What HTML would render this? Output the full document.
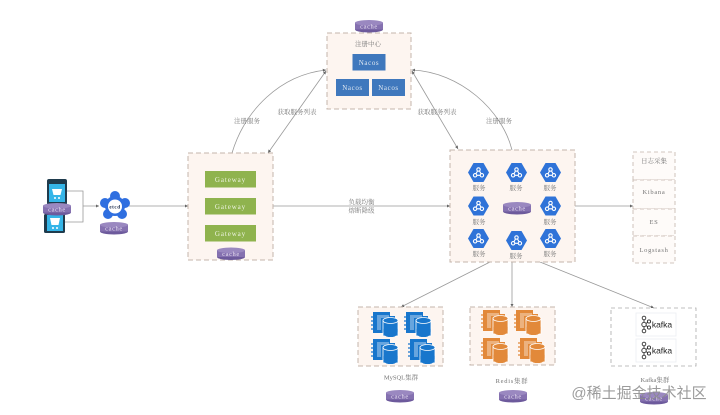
<!DOCTYPE html>
<html><head><meta charset="utf-8"><style>
html,body{margin:0;padding:0;background:#fff;width:720px;height:415px;overflow:hidden}
svg{display:block;filter:blur(.35px)}
text{font-family:"Liberation Serif","Noto Serif CJK SC",serif;font-size:6.5px;fill:#777;text-anchor:middle}
.w{fill:#dfe8f2;letter-spacing:.6px;font-size:7px}.c{fill:#e6def0;font-size:6.5px;letter-spacing:.6px}
.s{letter-spacing:.7px}
.b{fill:#fdf5f0;stroke:#c4b5ab;stroke-width:1;stroke-dasharray:5 3}
.l{fill:none;stroke:#999;stroke-width:.8}
</style></head><body>
<svg width="720" height="415" viewBox="0 0 720 415" xmlns="http://www.w3.org/2000/svg">
<defs>
<marker id="a" markerWidth="5" markerHeight="5" refX="4" refY="2.5" orient="auto-start-reverse"><path d="M0 .5L4 2.5L0 4.5z" fill="#666"/></marker>
<g id="cache"><ellipse cx="14" cy="9.5" rx="14" ry="3" fill="#6d5a9c"/><rect x="0" y="2.5" width="28" height="7" fill="#8571b0"/><ellipse cx="14" cy="2.8" rx="14" ry="2.8" fill="#9a88c0"/><text class="c" x="14" y="8.6">cache</text></g>
<g id="hex"><path d="M-5-9.500H5L10.500 0L5 9.500H-5L-10.500 0z" fill="#2f73d8"/><g fill="none" stroke="#fff" stroke-width="1.1"><circle cx="0" cy="-3" r="1.700"/><circle cx="-3.400" cy="2.800" r="1.700"/><circle cx="3.400" cy="2.800" r="1.700"/><path d="M-1 -1.500L-2.500 1.200M1 -1.500L2.500 1.200M-1.700 2.800H1.700"/></g></g>
<g id="db"><path d="M0 0H17V4H22V21H0z" fill="currentColor"/><path d="M-2 5h4M-2 9h4M-2 13h4M-2 17h4" stroke="currentColor" stroke-width="1.2"/><path d="M4 3H16V6H8V18H4z" fill="#fff" opacity=".35"/><rect x="10" y="8" width="15" height="16" fill="currentColor" stroke="#fff" stroke-width=".8"/><ellipse cx="17.500" cy="8.500" rx="7.500" ry="3" fill="currentColor" stroke="#fff" stroke-width=".8"/><rect x="10.400" y="12" width="14.200" height="13" rx="5" fill="currentColor"/></g>
<g id="kafka"><rect width="40" height="23" fill="#fff" stroke="#eceef2" stroke-width=".8"/><g fill="none" stroke="#333" stroke-width=".9"><circle cx="8" cy="5" r="1.800"/><circle cx="8" cy="11.500" r="2.200"/><circle cx="8" cy="18" r="1.800"/><circle cx="13" cy="8.500" r="1.600"/><circle cx="13" cy="14.500" r="1.600"/><path d="M8 7V9.300M8 13.700V16M10 10.500L11.600 9.300M10 12.500L11.600 13.800"/></g><text x="26" y="14.500" style="font-family:'Liberation Sans',sans-serif;font-size:8.500px;fill:#222">kafka</text></g>
</defs>
<rect width="720" height="415" fill="#fff"/>

<!-- connectors -->
<path class="l" d="M232 153C245 110 280 75 326 70" marker-end="url(#a)"/>
<path class="l" d="M326 71L268 153" marker-start="url(#a)" marker-end="url(#a)"/>
<path class="l" d="M412 71L458 149" marker-start="url(#a)" marker-end="url(#a)"/>
<path class="l" d="M512 150C502 110 460 72 412 70" marker-end="url(#a)"/>
<path class="l" d="M67 191H83V222H65M83 206H99" marker-end="url(#a)"/>
<path class="l" d="M129 206H188" marker-end="url(#a)"/>
<path class="l" d="M273 206H450" marker-end="url(#a)"/>
<path class="l" d="M575 206H633" marker-end="url(#a)"/>
<path class="l" d="M512 262V307" marker-end="url(#a)"/>
<path class="l" d="M490 262L401 307" marker-end="url(#a)"/>
<path class="l" d="M540 262L654 308" marker-end="url(#a)"/>

<!-- registry -->
<rect class="b" x="327" y="33" width="84" height="76"/>
<use href="#cache" x="355" y="20"/>
<text x="368" y="46">注册中心</text>
<rect x="352.500" y="54" width="33" height="16.500" fill="#3f78bd"/><text class="w" x="369" y="65">Nacos</text>
<rect x="336" y="79" width="33" height="17" fill="#3f78bd"/><text class="w" x="352.500" y="90">Nacos</text>
<rect x="372" y="79" width="33" height="17" fill="#3f78bd"/><text class="w" x="388.500" y="90">Nacos</text>

<!-- labels -->
<text x="247" y="123">注册服务</text>
<text x="297" y="114">获取服务列表</text>
<text x="437" y="114">获取服务列表</text>
<text x="499" y="123">注册服务</text>
<text x="361.500" y="204">负载均衡</text>
<text x="361.500" y="212.500">熔断降级</text>

<!-- clients -->
<rect x="47" y="179" width="20" height="26" rx="2" fill="#1f3b4d"/><rect x="49" y="184" width="16" height="18" fill="#35b5e8"/>
<path d="M52 189H62L60.500 195H53.500z" fill="#fff"/><circle cx="55" cy="198" r="1" fill="#fff"/><circle cx="59" cy="198" r="1" fill="#fff"/>
<rect x="44" y="214" width="21" height="19" rx="1.500" fill="#1f3b4d"/><rect x="47" y="215" width="16" height="16" fill="#35b5e8"/>
<path d="M50 218H60L58.500 225H51.500z" fill="#fff"/><circle cx="53" cy="228" r="1" fill="#fff"/><circle cx="57" cy="228" r="1" fill="#fff"/>
<use href="#cache" x="43" y="203"/>
<g fill="#2f6fe0"><circle cx="115" cy="196" r="5"/><circle cx="125" cy="203" r="5"/><circle cx="122" cy="214" r="5"/><circle cx="108" cy="214" r="5"/><circle cx="105" cy="203" r="5"/><circle cx="115" cy="206" r="10"/></g>
<circle cx="115" cy="206.500" r="7" fill="#fff"/><text x="115" y="208.500" style="font-size:5px;font-weight:bold;fill:#124;letter-spacing:.6px">etcd</text>
<use href="#cache" x="100" y="222"/>

<!-- gateway -->
<rect class="b" x="188" y="153" width="85" height="107"/>
<g fill="#8fb34e"><rect x="205" y="171" width="51" height="16.500"/><rect x="205" y="198" width="51" height="16.500"/><rect x="205" y="225" width="51" height="16.500"/></g>
<text class="w" style="fill:#eef4e2;letter-spacing:.9px" x="230.500" y="182">Gateway</text><text class="w" style="fill:#eef4e2;letter-spacing:.9px" x="230.500" y="209">Gateway</text><text class="w" style="fill:#eef4e2;letter-spacing:.9px" x="230.500" y="236">Gateway</text>
<use href="#cache" x="217" y="247.500"/>

<!-- services -->
<rect class="b" x="450" y="150" width="125" height="112"/>
<use href="#hex" x="478.500" y="172.500"/><use href="#hex" x="516.500" y="172.500"/><use href="#hex" x="550.500" y="172.500"/>
<use href="#hex" x="478.500" y="206"/><use href="#hex" x="550.500" y="206"/>
<use href="#hex" x="478.500" y="238.500"/><use href="#hex" x="516.500" y="240.500"/><use href="#hex" x="550.500" y="238.500"/>
<text x="479" y="190">服务</text><text x="516" y="190">服务</text><text x="550" y="190">服务</text>
<text x="479" y="224">服务</text><text x="550" y="224">服务</text>
<text x="479" y="256">服务</text><text x="516" y="258">服务</text><text x="550" y="256">服务</text>
<use href="#cache" x="503" y="202"/>

<!-- logs -->
<g fill="#fefbf9" stroke="#c4b5ab" stroke-width=".8" stroke-dasharray="4 3">
<rect x="633" y="152" width="42" height="28"/><rect x="633" y="180" width="42" height="29"/><rect x="633" y="209" width="42" height="27"/><rect x="633" y="236" width="42" height="27"/></g>
<text x="654" y="163">日志采集</text><text class="s" x="654" y="194">Kibana</text><text class="s" x="654" y="224">ES</text><text class="s" x="654" y="252">Logstash</text>

<!-- mysql -->
<rect class="b" x="358" y="307" width="85" height="59"/>
<g style="color:#1876cc"><use href="#db" x="373" y="312"/><use href="#db" x="406" y="312"/><use href="#db" x="373" y="339"/><use href="#db" x="410" y="339"/></g>
<text x="401" y="379.500">MySQL集群</text>
<use href="#cache" x="386" y="390"/>

<!-- redis -->
<rect class="b" x="470" y="307" width="85" height="58"/>
<g style="color:#e2893a"><use href="#db" x="483" y="310"/><use href="#db" x="516" y="310"/><use href="#db" x="483" y="338"/><use href="#db" x="520" y="338"/></g>
<text class="s" x="512" y="383">Redis集群</text>
<use href="#cache" x="499" y="390"/>

<!-- kafka -->
<rect x="611" y="308" width="85" height="58" fill="#fff" stroke="#aaa" stroke-width=".8" stroke-dasharray="4 3"/>
<use href="#kafka" x="636" y="313"/><use href="#kafka" x="636" y="339"/>
<text x="655" y="382">Kafka集群</text>
<use href="#cache" x="640" y="392"/>

<text x="639" y="398" style="font-family:'Liberation Sans','Noto Sans CJK SC',sans-serif;font-size:15px;fill:#8a8a8a;opacity:.85">@稀土掘金技术社区</text>
</svg>
</body></html>
